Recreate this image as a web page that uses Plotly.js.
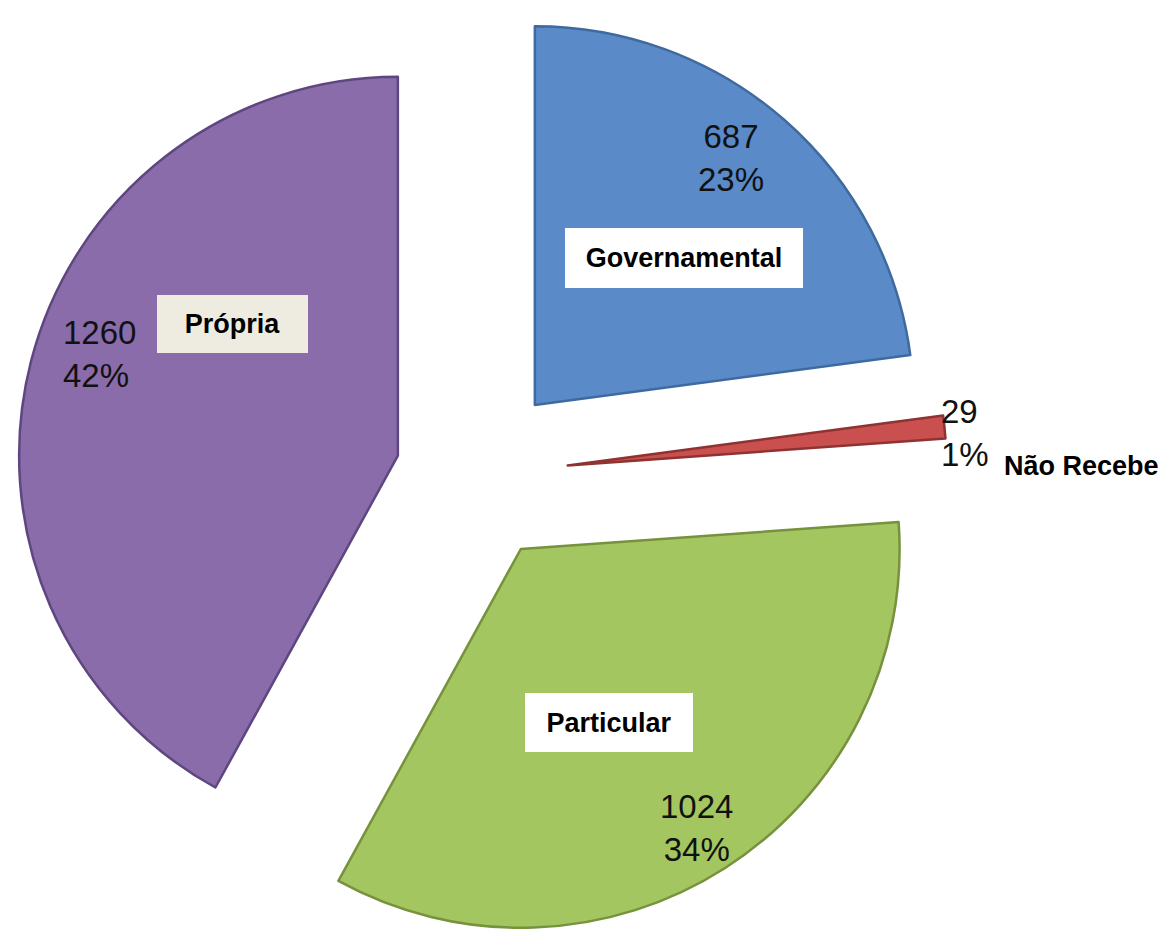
<!DOCTYPE html>
<html>
<head>
<meta charset="utf-8">
<script src="https://cdn.plot.ly/plotly-3.0.1.min.js"></script>
<style>
  html, body { margin: 0; padding: 0; background: #ffffff; }
  #chart { width: 1169px; height: 950px; }
</style>
</head>
<body>
<div id="chart"></div>
<script>
// ---- data ----
const categories = ["Governamental", "Não Recebe", "Particular", "Própria"];
const counts = [687, 29, 1024, 1260];

// ---- style ----
const sliceColors = ["#5A8AC8", "#C9504F", "#A4C660", "#8A6CAA"];
const edgeColors = ["#3F6A9F", "#8E3331", "#76923C", "#5E4780"];
const pulls = [0.246, 0.25, 0.232, 0.206];
const labelBoxColors = ["#FFFFFF", null, "#FFFFFF", "#EEECE1"];

// label placement (pixel positions in the 1169x950 figure)
const W = 1169, H = 950;
const valuePos = [
  {x: 731, y: 158, anchor: "center", align: "center"},
  {x: 939, y: 433, anchor: "left", align: "left"},
  {x: 696, y: 828, anchor: "center", align: "center"},
  {x: 61, y: 354, anchor: "left", align: "left"}
];
const namePos = [
  {x: 684, y: 258, w: 238, h: 60},
  {x: 1081, y: 466, w: 0, h: 0},
  {x: 609, y: 722, w: 168, h: 59},
  {x: 232, y: 324, w: 151, h: 58}
];

const total = counts.reduce((a, b) => a + b, 0);
const annotations = [];
categories.forEach((cat, i) => {
  const pct = Math.round(counts[i] / total * 100) + "%";
  const vp = valuePos[i];
  annotations.push({
    xref: "paper", yref: "paper",
    x: vp.x / W, y: 1 - vp.y / H,
    xanchor: vp.anchor, yanchor: "middle", align: vp.align,
    text: counts[i] + "<br>" + pct,
    showarrow: false,
    font: {family: "Liberation Sans, Arial, sans-serif", size: 33, color: "#111111"}
  });
  const np = namePos[i];
  const ann = {
    xref: "paper", yref: "paper",
    x: np.x / W, y: 1 - np.y / H,
    xanchor: "center", yanchor: "middle",
    text: "<b>" + cat + "</b>",
    showarrow: false,
    borderpad: 0, borderwidth: 0,
    font: {family: "Liberation Sans, Arial, sans-serif", size: 27, color: "#000000"}
  };
  if (labelBoxColors[i]) {
    ann.bgcolor = labelBoxColors[i];
    ann.width = np.w;
    ann.height = np.h;
  }
  annotations.push(ann);
});

const trace = {
  type: "pie",
  labels: categories,
  values: counts,
  sort: false,
  direction: "clockwise",
  rotation: 0,
  pull: pulls,
  textinfo: "none",
  hoverinfo: "skip",
  marker: {colors: sliceColors, line: {color: edgeColors, width: 2.5}},
  domain: {x: [0, 0.81], y: [0, 1]}
};

const layout = {
  width: W, height: H,
  margin: {l: 0, r: 0, t: 0, b: 0},
  paper_bgcolor: "#ffffff",
  plot_bgcolor: "#ffffff",
  showlegend: false,
  hovermode: false,
  annotations: annotations
};

Plotly.newPlot("chart", [trace], layout, {displayModeBar: false, staticPlot: true});
</script>
</body>
</html>
